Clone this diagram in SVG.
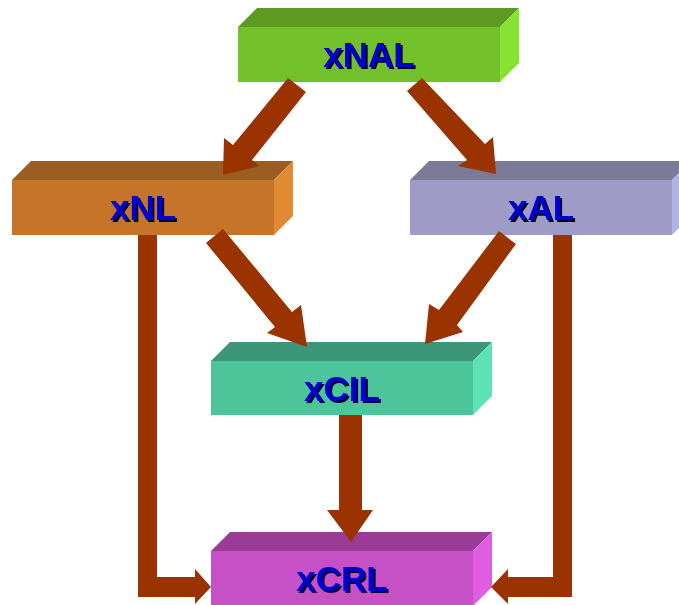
<svg xmlns="http://www.w3.org/2000/svg" width="679" height="605" viewBox="0 0 679 605">
  <style>
    .lbl { font-family: "Liberation Sans", Arial, sans-serif; font-weight: bold; font-size: 35px; text-anchor: middle; fill: #0000CC; filter: url(#textShadow); }
    .arrow { fill: #9A3300; }
  </style>
  <defs>
    <!-- hard dark drop shadow under the block labels -->
    <filter id="textShadow" x="-10%" y="-20%" width="130%" height="150%">
      <feDropShadow dx="2" dy="2" stdDeviation="0" flood-color="#000022" flood-opacity="1"/>
    </filter>
  </defs>

  <!-- Each block: front face 262x55 at the group origin, 19px deep top and right faces -->
  <g id="xNAL" transform="translate(238,27)">
    <polygon points="0,0 19,-19 281,-19 262,0" fill="#5E9A22"/>
    <polygon points="262,0 281,-19 281,36 262,55" fill="#88E232"/>
    <rect x="0" y="0" width="262" height="55" fill="#73C12A"/>
    <text class="lbl" x="131" y="40">xNAL</text>
  </g>

  <g id="xNL" transform="translate(12,180)">
    <polygon points="0,0 19,-19 281,-19 262,0" fill="#9A5D22"/>
    <polygon points="262,0 281,-19 281,36 262,55" fill="#E28A32"/>
    <rect x="0" y="0" width="262" height="55" fill="#C6742A"/>
    <text class="lbl" x="131" y="40">xNL</text>
  </g>

  <g id="xAL" transform="translate(410,180)">
    <polygon points="0,0 19,-19 281,-19 262,0" fill="#7B7A99"/>
    <polygon points="262,0 281,-19 281,36 262,55" fill="#B2B2E6"/>
    <rect x="0" y="0" width="262" height="55" fill="#9E9CC6"/>
    <text class="lbl" x="131" y="40">xAL</text>
  </g>

  <g id="xCIL" transform="translate(211,361)">
    <polygon points="0,0 19,-19 281,-19 262,0" fill="#3E967A"/>
    <polygon points="262,0 281,-19 281,35 262,54" fill="#5CE2B4"/>
    <rect x="0" y="0" width="262" height="54" fill="#4DC59B"/>
    <text class="lbl" x="131" y="40">xCIL</text>
  </g>

  <g id="xCRL" transform="translate(211,551)">
    <polygon points="0,0 19,-19 281,-19 262,0" fill="#9A3C96"/>
    <polygon points="262,0 281,-19 281,36 262,55" fill="#E05CE0"/>
    <rect x="0" y="0" width="262" height="55" fill="#C650C5"/>
    <text class="lbl" x="131" y="40">xCRL</text>
  </g>

  <g id="connectors">
    <!-- xNAL to xNL -->
    <polygon class="arrow" points="288,78 306,92 252,160 259,166 223,175 224,138 233,145"/>
    <!-- xNAL to xAL -->
    <polygon class="arrow" points="422,78 485,144 493,137 496,174 458,166 467,160 407,91"/>
    <!-- xNL to xCIL -->
    <polygon class="arrow" points="223,229 292,312 301,305 307,347 267,333 275,327 206,243"/>
    <!-- xAL to xCIL -->
    <polygon class="arrow" points="499,231 516,244 457,325 463,332 425,344 429,304 439,310"/>
    <!-- xCIL to xCRL -->
    <polygon class="arrow" points="339,415 362,415 362,510 373,510 351,542 327,510 339,510"/>
    <!-- xNL to xCRL (elbow) -->
    <polygon class="arrow" points="138,235 157,235 157,577 195,577 195,569 211,587 195,604 195,597 138,597"/>
    <!-- xAL to xCRL (elbow) -->
    <polygon class="arrow" points="553,235 572,235 572,597 508,597 508,604 491,587 508,569 508,577 553,577"/>
  </g>
</svg>
